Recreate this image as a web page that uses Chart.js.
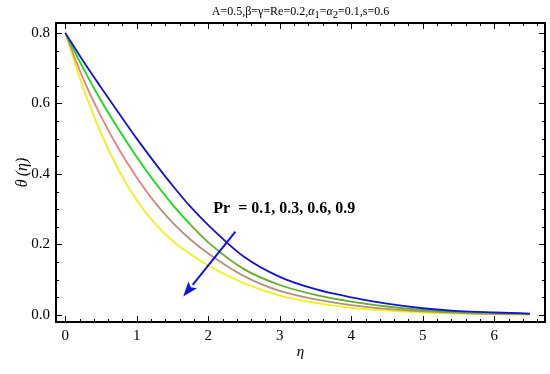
<!DOCTYPE html>
<html>
<head>
<meta charset="utf-8">
<script src="https://cdn.jsdelivr.net/npm/chart.js@4.4.1/dist/chart.umd.min.js"></script>
<style>
  html, body { margin: 0; padding: 0; background: #fff; }
</style>
</head>
<body>
<canvas id="chart" width="550" height="374"></canvas>
<script>
// eta values along the x axis
const eta = [0, 0.25, 0.5, 0.75, 1, 1.25, 1.5, 1.75, 2, 2.5, 3, 3.5, 4, 4.5, 5, 5.5, 6, 6.5];
// theta(eta) for each Pr
const thetaPr01 = [0.80, 0.720, 0.645, 0.572, 0.500, 0.432, 0.367, 0.307, 0.255, 0.165, 0.108, 0.073, 0.050, 0.032, 0.019, 0.011, 0.007, 0.004];
const thetaPr03 = [0.80, 0.700, 0.608, 0.525, 0.448, 0.377, 0.313, 0.256, 0.206, 0.130, 0.085, 0.057, 0.038, 0.024, 0.014, 0.008, 0.005, 0.003];
const thetaPr06 = [0.80, 0.670, 0.563, 0.470, 0.390, 0.320, 0.262, 0.214, 0.174, 0.110, 0.068, 0.044, 0.028, 0.017, 0.010, 0.006, 0.003, 0.002];
const thetaPr09 = [0.80, 0.645, 0.515, 0.410, 0.325, 0.260, 0.210, 0.172, 0.140, 0.090, 0.055, 0.034, 0.020, 0.012, 0.007, 0.004, 0.002, 0.001];
const seriesNames = ['Pr = 0.1', 'Pr = 0.3', 'Pr = 0.6', 'Pr = 0.9'];
const xTicks = [0, 1, 2, 3, 4, 5, 6];
const yTicks = [0, 0.2, 0.4, 0.6, 0.8];

const serif = "'Liberation Serif', 'DejaVu Serif', serif";

const toPoints = arr => eta.map((x, i) => ({ x: x, y: arr[i] }));

// colour shifts a bit along the curve in the original
const shiftColor = (early, late, at) => ctx => (ctx.p0.parsed.x >= at ? late : early);

// frame with inward ticks on all four sides, like the original
const framePlugin = {
  id: 'frame',
  afterDraw(chart) {
    const { ctx, chartArea: a, scales: { x, y } } = chart;
    ctx.save();
    ctx.strokeStyle = '#000';
    ctx.lineWidth = 1;
    ctx.beginPath();
    for (let v = 0; v <= 6.61; v += 0.2) {
      const px = Math.round(x.getPixelForValue(v)) + 0.5;
      const major = Math.abs(v - Math.round(v)) < 1e-6;
      const len = major ? 6 : 3;
      ctx.moveTo(px, a.bottom); ctx.lineTo(px, a.bottom - len);
      ctx.moveTo(px, a.top); ctx.lineTo(px, a.top + len);
    }
    for (let v = 0; v <= 0.801; v += 0.05) {
      const py = Math.round(y.getPixelForValue(v)) + 0.5;
      const major = Math.abs(v * 5 - Math.round(v * 5)) < 1e-6;
      const len = major ? 6 : 3;
      ctx.moveTo(a.left, py); ctx.lineTo(a.left + len, py);
      ctx.moveTo(a.right, py); ctx.lineTo(a.right - len, py);
    }
    ctx.stroke();
    ctx.lineWidth = 2;
    ctx.strokeRect(a.left, a.top, a.right - a.left, a.bottom - a.top);
    ctx.restore();
  }
};

// title with subscripts and the Pr arrow annotation
const notePlugin = {
  id: 'notes',
  afterDraw(chart) {
    const { ctx, chartArea: a, scales: { x, y } } = chart;
    ctx.save();
    ctx.fillStyle = '#000';
    ctx.textBaseline = 'alphabetic';

    const parts = [
      { t: 'A=0.5,\u03B2=\u03B3=Re=0.2,', f: '12px ' + serif, dy: 0 },
      { t: '\u03B1', f: 'italic 12px ' + serif, dy: 0 },
      { t: '1', f: '10.5px ' + serif, dy: 3 },
      { t: '=', f: '12px ' + serif, dy: 0 },
      { t: '\u03B1', f: 'italic 12px ' + serif, dy: 0 },
      { t: '2', f: '10.5px ' + serif, dy: 3 },
      { t: '=0.1,s=0.6', f: '12px ' + serif, dy: 0 }
    ];
    let total = 0;
    parts.forEach(p => { ctx.font = p.f; p.w = ctx.measureText(p.t).width; total += p.w; });
    let cx = (a.left + a.right) / 2 - total / 2;
    parts.forEach(p => { ctx.font = p.f; ctx.fillText(p.t, cx, 15 + p.dy); cx += p.w; });

    ctx.font = 'bold 16px ' + serif;
    ctx.textBaseline = 'middle';
    ctx.fillText('Pr  = 0.1, 0.3, 0.6, 0.9', x.getPixelForValue(2.07), y.getPixelForValue(0.30));

    const x0 = x.getPixelForValue(2.38), y0 = y.getPixelForValue(0.236);
    const x1 = x.getPixelForValue(1.65), y1 = y.getPixelForValue(0.052);
    const ang = Math.atan2(y1 - y0, x1 - x0);
    const head = 15, half = 5.5;
    const bx = x1 - head * Math.cos(ang), by = y1 - head * Math.sin(ang);
    ctx.strokeStyle = 'rgb(20,20,220)';
    ctx.fillStyle = 'rgb(20,20,220)';
    ctx.lineWidth = 2;
    ctx.beginPath();
    ctx.moveTo(x0, y0);
    ctx.lineTo(bx, by);
    ctx.stroke();
    ctx.beginPath();
    ctx.moveTo(x1, y1);
    ctx.lineTo(bx + half * Math.sin(ang), by - half * Math.cos(ang));
    ctx.lineTo(bx + 3 * Math.cos(ang), by + 3 * Math.sin(ang));
    ctx.lineTo(bx - half * Math.sin(ang), by + half * Math.cos(ang));
    ctx.closePath();
    ctx.fill();
    ctx.restore();
  }
};

const chart = new Chart(document.getElementById('chart').getContext('2d'), {
  type: 'line',
  data: {
    datasets: [
      {
        label: seriesNames[0],
        data: toPoints(thetaPr01),
        borderColor: 'rgb(20,20,210)'
      },
      {
        label: seriesNames[1],
        data: toPoints(thetaPr03),
        borderColor: 'rgb(20,220,20)',
        segment: { borderColor: shiftColor('rgb(20,220,20)', 'rgb(100,175,40)', 1.75) }
      },
      {
        label: seriesNames[2],
        data: toPoints(thetaPr06),
        borderColor: 'rgb(240,125,125)',
        segment: { borderColor: shiftColor('rgb(240,125,125)', 'rgb(180,145,125)', 1.25) }
      },
      {
        label: seriesNames[3],
        data: toPoints(thetaPr09),
        borderColor: 'rgb(240,240,20)'
      }
    ]
  },
  options: {
    responsive: false,
    animation: false,
    devicePixelRatio: 1,
    layout: { padding: { top: 23, right: 5, left: 0, bottom: 0 } },
    elements: {
      line: { borderWidth: 1.8, cubicInterpolationMode: 'monotone', fill: false },
      point: { radius: 0 }
    },
    plugins: {
      legend: { display: false },
      tooltip: { enabled: false }
    },
    scales: {
      x: {
        type: 'linear',
        min: -0.13,
        max: 6.71,
        afterBuildTicks: s => { s.ticks = xTicks.map(v => ({ value: v })); },
        afterFit: s => { s.height = 52; },
        grid: { display: false, drawTicks: false },
        border: { display: false },
        ticks: {
          color: '#000',
          padding: 5,
          maxRotation: 0,
          autoSkip: false,
          font: { family: serif, size: 15 }
        },
        title: {
          display: true,
          text: '\u03B7',
          color: '#000',
          font: { family: serif, size: 15, style: 'italic' },
          padding: { top: 0, bottom: 13 }
        }
      },
      y: {
        type: 'linear',
        min: -0.02,
        max: 0.828,
        afterBuildTicks: s => { s.ticks = yTicks.map(v => ({ value: v })); },
        afterFit: s => { s.width = 56; },
        grid: { display: false, drawTicks: false },
        border: { display: false },
        ticks: {
          color: '#000',
          padding: 6,
          autoSkip: false,
          font: { family: serif, size: 15 },
          callback: v => v.toFixed(1)
        },
        title: {
          display: true,
          text: '\u03B8\u2009(\u03B7)',
          color: '#000',
          font: { family: serif, size: 16, style: 'italic' },
          padding: { top: 13, bottom: 0 }
        }
      }
    }
  },
  plugins: [framePlugin, notePlugin]
});
</script>
</body>
</html>
